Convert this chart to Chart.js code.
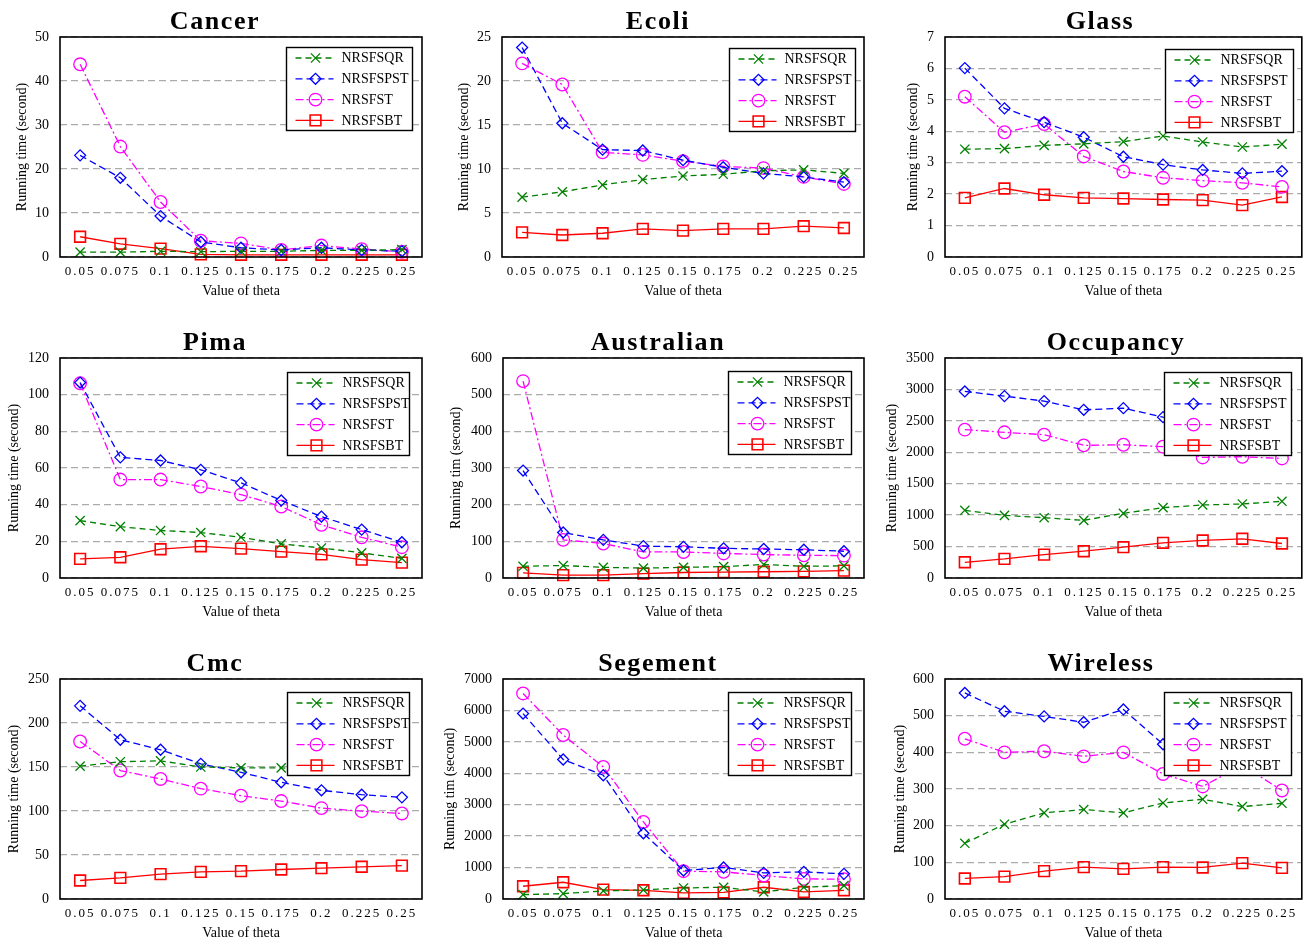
<!DOCTYPE html>
<html><head><meta charset="utf-8">
<script src="https://cdn.jsdelivr.net/npm/chart.js@4.4.1/dist/chart.umd.min.js"></script>
<style>
html,body{margin:0;padding:0;background:#fff;overflow:hidden;width:1311px;height:942px;position:relative;}
.panel{position:absolute;width:437px;height:300px;}
canvas{display:block;}
</style></head><body>
<script>
// ---------- data ----------
const thetaLabels = ['0.05','0.075','0.1','0.125','0.15','0.175','0.2','0.225','0.25'];
const seriesNames = ['NRSFSQR','NRSFSPST','NRSFST','NRSFSBT'];
const panelTitles = ['Cancer','Ecoli','Glass','Pima','Australian','Occupancy','Cmc','Segement','Wireless'];
const yMaxes = [50,25,7,120,600,3500,250,7000,600];
const ySteps = [10,5,1,20,100,500,50,1000,100];
const yTitles = ['Running time (second)','Running time (second)','Running time (second)',
  'Running time (second)','Running tim (second)','Running time (second)',
  'Running time (second)','Running tim (second)','Running time (second)'];
const xTitle = 'Value of theta';

const cancerSQR = [1.1,1.1,1.3,1.2,1.3,1.3,1.5,1.5,1.7];
const cancerPST = [23.1,18.0,9.3,3.4,2.1,1.6,2.1,1.6,1.3];
const cancerST  = [43.8,25.1,12.5,3.7,3.1,1.6,2.6,1.8,1.2];
const cancerSBT = [4.6,3.0,1.9,0.6,0.5,0.5,0.5,0.5,0.5];

const ecoliSQR = [6.8,7.4,8.2,8.8,9.2,9.4,9.8,9.9,9.5];
const ecoliPST = [23.8,15.2,12.2,12.1,11.0,10.2,9.5,9.1,8.5];
const ecoliST  = [22.0,19.6,11.9,11.6,10.9,10.3,10.1,9.1,8.3];
const ecoliSBT = [2.8,2.5,2.7,3.2,3.0,3.2,3.2,3.5,3.3];

const glassSQR = [3.43,3.45,3.55,3.6,3.67,3.85,3.66,3.5,3.59];
const glassPST = [6.01,4.73,4.29,3.81,3.19,2.94,2.77,2.66,2.73];
const glassST  = [5.1,3.97,4.23,3.2,2.72,2.52,2.43,2.36,2.23];
const glassSBT = [1.88,2.18,1.98,1.88,1.86,1.83,1.81,1.65,1.91];

const pimaSQR = [31.3,28.0,25.9,24.8,22.2,18.6,16.4,13.7,10.7];
const pimaPST = [106.6,65.8,64.1,59.0,51.9,42.3,33.5,26.4,19.5];
const pimaST  = [106.2,53.7,53.7,49.9,45.5,39.0,29.0,22.2,16.8];
const pimaSBT = [10.4,11.3,15.7,17.3,16.0,14.4,12.9,10.0,8.4];

const australianSQR = [32,34,29,27,29,31,37,32,33];
const australianPST = [293,124,104,87,85,81,79,77,73];
const australianST  = [537,104,94,71,71,67,64,62,61];
const australianSBT = [14,8,8,12,15,16,17,18,20];

const occupancySQR = [1077,997,959,917,1029,1119,1162,1178,1220];
const occupancyPST = [2968,2894,2814,2676,2702,2559,2480,2420,2380];
const occupancyST  = [2360,2318,2280,2110,2120,2089,1918,1929,1902];
const occupancySBT = [250,304,373,426,490,560,597,624,549];

const cmcSQR = [151,156,157,150,149,149,147,146,147];
const cmcPST = [219.5,181,169.6,153.6,144,132.6,123.5,118.5,115.5];
const cmcST  = [179,146,136.4,125.4,117.4,111.3,103.3,99.8,97.2];
const cmcSBT = [21,24,28.2,30.9,31.6,33.5,35,36.6,38];

const segementSQR = [139,171,256,288,352,373,224,373,427];
const segementPST = [5900,4439,3937,2091,907,1003,832,864,800];
const segementST  = [6540,5218,4204,2454,885,864,747,640,629];
const segementSBT = [405,533,299,277,192,213,373,224,277];

const wirelessSQR = [152,204,235,244,235,262,272,252,261];
const wirelessPST = [562,512,498,482,517,422,415,405,400];
const wirelessST  = [437,400,403,389,400,341,307,365,296];
const wirelessSBT = [56,61,76,87,82,87,86,98,85];

const panelSeries = [
  [cancerSQR,cancerPST,cancerST,cancerSBT],
  [ecoliSQR,ecoliPST,ecoliST,ecoliSBT],
  [glassSQR,glassPST,glassST,glassSBT],
  [pimaSQR,pimaPST,pimaST,pimaSBT],
  [australianSQR,australianPST,australianST,australianSBT],
  [occupancySQR,occupancyPST,occupancyST,occupancySBT],
  [cmcSQR,cmcPST,cmcST,cmcSBT],
  [segementSQR,segementPST,segementST,segementSBT],
  [wirelessSQR,wirelessPST,wirelessST,wirelessSBT]
];

// ---------- styling / layout ----------
const SERIF = '"Liberation Serif", "Times New Roman", serif';
const seriesStyles = [
  {color:'#008000', dash:[6,4], point:'crossRot', r:6.5},
  {color:'#0000FF', dash:[7,4], point:'rectRot', r:5.5},
  {color:'#FF00FF', dash:[8,3,2,3], point:'circle', r:6.3},
  {color:'#FF0000', dash:[], point:'rect', r:7.6}
];
const panelLayout = [
  {yw:60,padR:15,yTX:22,tX:215,lgR:10,lgT:10,lgW:126},
  {yw:65,padR:10,yTX:27,tX:221,lgR:9,lgT:11,lgW:126},
  {yw:71,padR:4,yTX:39,tX:226,lgR:9,lgT:12,lgW:128},
  {yw:60,padR:15,yTX:14,tX:215,lgR:13,lgT:14,lgW:122},
  {yw:66,padR:10,yTX:19,tX:221,lgR:13,lgT:13,lgW:123},
  {yw:71,padR:4,yTX:18,tX:242,lgR:11,lgT:14,lgW:127},
  {yw:60,padR:15,yTX:14,tX:215,lgR:13,lgT:13,lgW:122},
  {yw:66,padR:10,yTX:13,tX:221,lgR:13,lgT:13,lgW:123},
  {yw:71,padR:4,yTX:26,tX:227,lgR:11,lgT:13,lgW:127}
];

function drawMarker(ctx, style, r, x, y){
  if (Chart.helpers && Chart.helpers.drawPoint){
    Chart.helpers.drawPoint(ctx, {pointStyle:style, rotation:0, radius:r, borderWidth:ctx.lineWidth}, x, y);
  }
}

const panelPlugin = {
  id: 'panelPlugin',
  beforeDraw(chart, args, opts){
    const xs = chart.scales.x;
    if (xs && !xs._sp){
      const orig = xs.drawLabels;
      xs.drawLabels = function(a){ const c=this.ctx; c.save(); c.letterSpacing='2px'; orig.call(this,a); c.restore(); };
      xs._sp = true;
    }
    const tb = chart.titleBlock;
    if (tb && !tb._sp){
      const orig = tb.draw;
      tb.draw = function(a){ const c=this.ctx; c.save(); c.letterSpacing='1.6px'; c.translate(opts.titleDx,0); orig.call(this,a); c.restore(); };
      tb._sp = true;
    }
  },
  afterDraw(chart, args, opts){
    const ctx = chart.ctx, a = chart.chartArea;
    ctx.save();
    ctx.setLineDash([]);
    ctx.strokeStyle = '#000';
    ctx.lineWidth = 1.6;
    ctx.strokeRect(a.left, a.top, a.right - a.left, a.bottom - a.top);
    const w = opts.lgW, h = 83;
    const x0 = Math.round(a.right - opts.lgR - w) + 0.5, y0 = Math.round(a.top + opts.lgT) + 0.5;
    ctx.fillStyle = '#fff';
    ctx.fillRect(x0, y0, w, h);
    ctx.lineWidth = 1.4;
    ctx.strokeRect(x0, y0, w, h);
    chart.data.datasets.forEach((ds, i) => {
      const y = y0 + 10.5 + i * 20.8;
      ctx.strokeStyle = ds.borderColor;
      ctx.lineWidth = ds.borderWidth;
      ctx.setLineDash(ds.borderDash || []);
      ctx.beginPath(); ctx.moveTo(x0 + 9, y); ctx.lineTo(x0 + 47, y); ctx.stroke();
      ctx.setLineDash([]);
      ctx.fillStyle = 'rgba(0,0,0,0)';
      ctx.lineWidth = ds.pointBorderWidth;
      drawMarker(ctx, ds.pointStyle, ds.pointRadius, x0 + 29, y);
      ctx.fillStyle = '#000';
      ctx.font = '14px ' + SERIF;
      ctx.textAlign = 'left';
      ctx.textBaseline = 'middle';
      ctx.fillText(ds.label, x0 + 55, y + 0.5);
    });
    ctx.restore();
  }
};

panelTitles.forEach((title, i) => {
  const L = panelLayout[i];
  const col = i % 3, row = Math.floor(i / 3);
  const div = document.createElement('div');
  div.className = 'panel';
  div.style.left = (col * 437) + 'px';
  div.style.top = (row * 321) + 'px';
  const cv = document.createElement('canvas');
  cv.width = 437; cv.height = 300;
  cv.style.width = '437px'; cv.style.height = '300px';
  div.appendChild(cv);
  document.body.appendChild(div);

  const datasets = panelSeries[i].map((vals, k) => {
    const s = seriesStyles[k];
    return {
      label: seriesNames[k],
      data: vals,
      borderColor: s.color,
      backgroundColor: 'rgba(0,0,0,0)',
      borderWidth: 1.3,
      borderDash: s.dash,
      pointStyle: s.point,
      pointRadius: s.r,
      pointHoverRadius: s.r,
      pointBorderColor: s.color,
      pointBackgroundColor: 'rgba(0,0,0,0)',
      pointBorderWidth: k === 3 ? 1.6 : 1.3,
      tension: 0,
      fill: false,
      clip: false
    };
  });

  new Chart(cv, {
    type: 'line',
    data: { labels: thetaLabels, datasets },
    plugins: [panelPlugin],
    options: {
      responsive: false,
      animation: false,
      events: [],
      devicePixelRatio: 1,
      layout: { padding: { left: 0, right: L.padR, top: 0, bottom: 0 } },
      plugins: {
        legend: { display: false },
        tooltip: { enabled: false },
        title: {
          display: true, text: title, color: '#000',
          font: { family: SERIF, size: 26, weight: 'bold', lineHeight: 1 },
          padding: { top: 9, bottom: 2 }
        },
        panelPlugin: { titleDx: L.tX - (437 - L.padR) / 2, lgR: L.lgR, lgT: L.lgT, lgW: L.lgW }
      },
      scales: {
        x: {
          type: 'category',
          offset: true,
          grid: { display: false, drawTicks: false },
          border: { display: false },
          ticks: { color: '#000', font: { family: SERIF, size: 13 }, padding: 7, maxRotation: 0, autoSkip: false },
          title: { display: true, text: xTitle, color: '#000', font: { family: SERIF, size: 14 }, padding: { top: 0, bottom: 0 } },
          afterFit: s => { s.height = 43; }
        },
        y: {
          type: 'linear',
          min: 0, max: yMaxes[i],
          grid: { color: '#ababab', lineWidth: 1.3, drawTicks: false, tickLength: 0 },
          border: { display: false, dash: [7, 4] },
          ticks: { stepSize: ySteps[i], color: '#000', font: { family: SERIF, size: 14 }, padding: 11, callback: v => String(v) },
          title: { display: true, text: yTitles[i], color: '#000', font: { family: SERIF, size: 14 }, padding: { top: L.yTX - 8.4, bottom: 0 } },
          afterFit: s => { s.width = L.yw; }
        }
      }
    }
  });
});
</script>
</body></html>
